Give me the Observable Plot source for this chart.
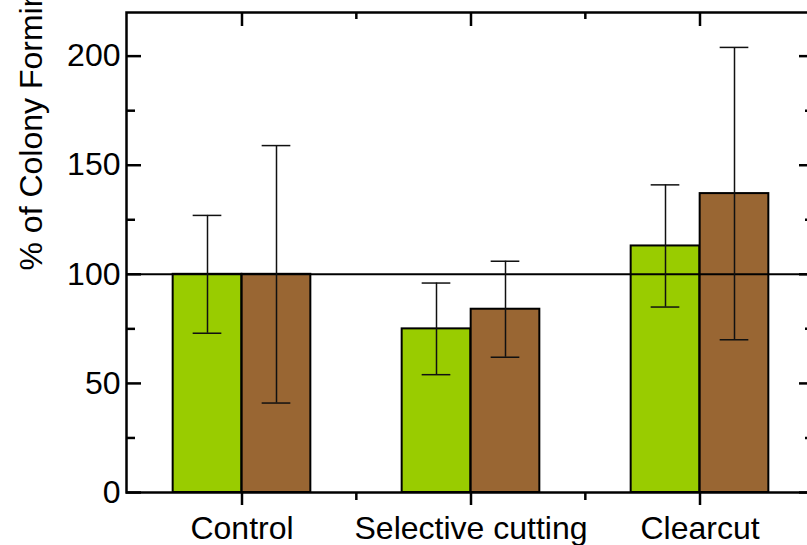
<!DOCTYPE html>
<html>
<head>
<meta charset="utf-8">
<script src="https://cdn.jsdelivr.net/npm/d3@7"></script>
<script src="https://cdn.jsdelivr.net/npm/@observablehq/plot@0.6"></script>
<style>
  html, body { margin: 0; padding: 0; background: white; overflow: hidden; }
  #chart svg { display: block; max-width: none !important; }
</style>
</head>
<body>
<div id="chart"></div>
<script>
// ---- data ----
const categories = ["Control", "Selective cutting", "Clearcut"];
const seriesNames = ["Series A", "Series B"];
const seriesColors = ["#99cc00", "#996633"];
const meanA = [100, 75, 113];
const lowA  = [73, 54, 85];
const highA = [127, 96, 141];
const meanB = [100, 84, 137];
const lowB  = [41, 62, 70];
const highB = [159, 106, 204];
const yMajorTicks = [0, 50, 100, 150, 200];
const yMinorTicks = [25, 75, 125, 175];
const referenceValue = [100];
const yLabel = "% of Colony Forming Units";

// ---- layout ----
const W = 815, H = 545;
const mL = 126, mR = 1, mT = 12, mB = 53;
const frameW = W - mL - mR, frameH = H - mT - mB;
const band = frameW / categories.length;
const half = band / 2;
const barW = 69;
const capW = 29;
const font = "Liberation Sans, Arial, Helvetica, sans-serif";
const fs = 32;

const rows = [];
categories.forEach((c, i) => {
  rows.push({cat: c, series: seriesNames[0], mean: meanA[i], lo: lowA[i], hi: highA[i], side: -1});
  rows.push({cat: c, series: seriesNames[1], mean: meanB[i], lo: lowB[i], hi: highB[i], side: 1});
});
const rowsA = rows.filter(d => d.side < 0);
const rowsB = rows.filter(d => d.side > 0);
const boundaries = categories.slice(1);

const capInsetNear = half - barW / 2 - capW / 2;
const capInsetFar = half + barW / 2 - capW / 2;

const chart = Plot.plot({
  width: W,
  height: H,
  marginLeft: mL,
  marginRight: mR,
  marginTop: mT,
  marginBottom: mB,
  style: {fontFamily: font, fontSize: fs + "px", color: "black", background: "white", overflow: "visible", maxWidth: "none"},
  x: {type: "band", domain: categories, padding: 0, axis: null},
  y: {domain: [0, 220], axis: null},
  color: {domain: seriesNames, range: seriesColors},
  marks: [
    // bars
    Plot.barY(rowsA, {x: "cat", y: "mean", fill: "series", stroke: "black", strokeWidth: 2,
      insetLeft: half - barW, insetRight: half}),
    Plot.barY(rowsB, {x: "cat", y: "mean", fill: "series", stroke: "black", strokeWidth: 2,
      insetLeft: half, insetRight: half - barW}),
    // reference line
    Plot.ruleY(referenceValue, {y: d => d, stroke: "black", strokeWidth: 2}),
    // frame
    Plot.frame({stroke: "black", strokeWidth: 2.5}),
    // error bars
    Plot.ruleX(rowsA, {x: "cat", y1: "lo", y2: "hi", dx: -barW / 2, stroke: "#111", strokeWidth: 1.5}),
    Plot.ruleX(rowsB, {x: "cat", y1: "lo", y2: "hi", dx: barW / 2, stroke: "#111", strokeWidth: 1.5}),
    Plot.tickY(rowsA, {x: "cat", y: "lo", insetLeft: capInsetNear, insetRight: capInsetFar, stroke: "#111", strokeWidth: 1.5}),
    Plot.tickY(rowsA, {x: "cat", y: "hi", insetLeft: capInsetNear, insetRight: capInsetFar, stroke: "#111", strokeWidth: 1.5}),
    Plot.tickY(rowsB, {x: "cat", y: "lo", insetLeft: capInsetFar, insetRight: capInsetNear, stroke: "#111", strokeWidth: 1.5}),
    Plot.tickY(rowsB, {x: "cat", y: "hi", insetLeft: capInsetFar, insetRight: capInsetNear, stroke: "#111", strokeWidth: 1.5}),
    // left axis ticks (inward)
    Plot.tickY(yMajorTicks, {y: d => d, insetRight: frameW - 15, stroke: "black", strokeWidth: 2.5}),
    Plot.tickY(yMinorTicks, {y: d => d, insetRight: frameW - 9, stroke: "black", strokeWidth: 2.5}),
    // right axis ticks (inward)
    Plot.tickY(yMajorTicks, {y: d => d, insetLeft: frameW - 15, stroke: "black", strokeWidth: 2.5}),
    Plot.tickY(yMinorTicks, {y: d => d, insetLeft: frameW - 9, stroke: "black", strokeWidth: 2.5}),
    // top ticks (inward)
    Plot.tickX(categories, {x: d => d, insetBottom: frameH - 14, stroke: "black", strokeWidth: 2.5}),
    Plot.tickX(boundaries, {x: d => d, dx: -half, insetBottom: frameH - 7, stroke: "black", strokeWidth: 2.5}),
    // bottom ticks (outward)
    Plot.tickX(categories, {x: d => d, insetTop: frameH, insetBottom: -13, stroke: "black", strokeWidth: 2.5}),
    Plot.tickX(boundaries, {x: d => d, dx: -half, insetTop: frameH, insetBottom: -8, stroke: "black", strokeWidth: 2.5}),
    // axis labels
    Plot.axisY(yMajorTicks, {tickSize: 0, tickPadding: 6, label: null, fontSize: fs, fill: "black"}),
    Plot.axisX(categories, {tickSize: 0, tickPadding: 24, label: null, fontSize: fs, fill: "black"}),
    // y axis title
    Plot.text([yLabel], {frameAnchor: "left", rotate: -90, textAnchor: "start", dx: -95, dy: 18,
      fontSize: fs, fill: "black", text: d => d})
  ]
});
document.getElementById("chart").appendChild(chart);
</script>
</body>
</html>
